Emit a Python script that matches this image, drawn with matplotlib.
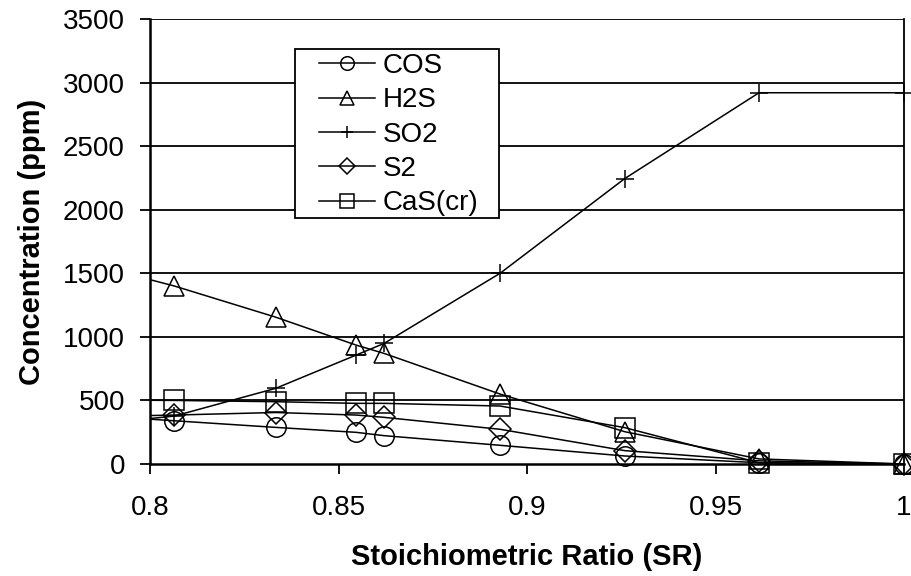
import matplotlib
matplotlib.use("Agg")
import matplotlib.pyplot as plt
from matplotlib.ticker import FixedLocator
from matplotlib.patches import Rectangle

plt.rcParams['font.family'] = ['Liberation Sans', 'DejaVu Sans']

# stoichiometric ratio (first point falls left of the shown range)
sr = [0.78125, 0.80645, 0.83333, 0.85470, 0.86207, 0.89286, 0.92593, 0.96154, 1.0]

cos = [389, 340, 288, 249, 223, 147, 63, 10, 0]
h2s = [1595, 1400, 1155, 935, 870, 550, 254, 40, 0]
so2 = [300, 377, 595, 857, 948, 1500, 2245, 2920, 2920]
s2 = [370, 385, 405, 385, 367, 273, 105, 25, 0]
cas = [505, 500, 490, 477, 477, 456, 286, 10, 0]

names = ['COS', 'H2S', 'SO2', 'S2', 'CaS(cr)']
series = [cos, h2s, so2, s2, cas]
markers = ['o', '^', '+', 'D', 's']
msizes = [14, 14, 13, 11, 14]

xticks = [0.8, 0.85, 0.9, 0.95, 1.0]
xticklabels = ['0.8', '0.85', '0.9', '0.95', '1']
yticks = [0, 500, 1000, 1500, 2000, 2500, 3000, 3500]

fig = plt.figure(figsize=(9.11, 5.76), dpi=100)
ax = fig.add_axes([150/911, 1-464/576, 754/911, 445/576])

for ys, name, m, ms in zip(series, names, markers, msizes):
    # line clipped to the plot area
    ax.plot(sr, ys, color='black', lw=1.1, zorder=3)
    # markers only for the visible points, not clipped
    vx = [x for x in sr if 0.8 <= x <= 1.0]
    vy = [y for x, y in zip(sr, ys) if 0.8 <= x <= 1.0]
    ax.plot(vx, vy, ls='none', marker=m, ms=ms, mfc='none', mec='black',
            mew=1.1, clip_on=False, zorder=4)
    # legend proxy
    ax.plot([], [], color='black', lw=1.1, marker=m, ms=ms*0.7, mfc='none',
            mec='black', mew=1.1, label=name)

ax.set_xlim(0.8, 1.0)
ax.set_ylim(0, 3500)
ax.xaxis.set_major_locator(FixedLocator(xticks))
ax.set_xticklabels(xticklabels)
ax.set_yticks(yticks)
ax.tick_params(axis='both', direction='out', length=7, width=1.3, color='black',
               labelsize=20)
ax.tick_params(axis='y', pad=11)
ax.tick_params(axis='x', pad=15)

for yv in yticks[1:]:
    ax.axhline(yv, color='black', lw=1.3, zorder=1)

for side in ['left', 'bottom']:
    ax.spines[side].set_linewidth(1.8)
ax.spines['right'].set_linewidth(1.3)
ax.spines['top'].set_visible(False)

ax.set_xlabel('Stoichiometric Ratio (SR)', fontsize=21, fontweight='bold', labelpad=16)
ax.set_ylabel('Concentration (ppm)', fontsize=21, fontweight='bold', labelpad=12)

# legend box drawn separately: wide side padding, tight top/bottom
box = Rectangle((145/754, 246/445), 204/754, 169/445, transform=ax.transAxes,
                facecolor='white', edgecolor='black', lw=1.3, zorder=5)
ax.add_patch(box)
leg = ax.legend(loc='upper left', bbox_to_anchor=(169/754, 411/445), fontsize=20,
                frameon=False, handlelength=2.0, handletextpad=0.3,
                labelspacing=0.3, borderpad=0, borderaxespad=0)
leg.set_zorder(6)

fig.savefig('out.png', dpi=100)
